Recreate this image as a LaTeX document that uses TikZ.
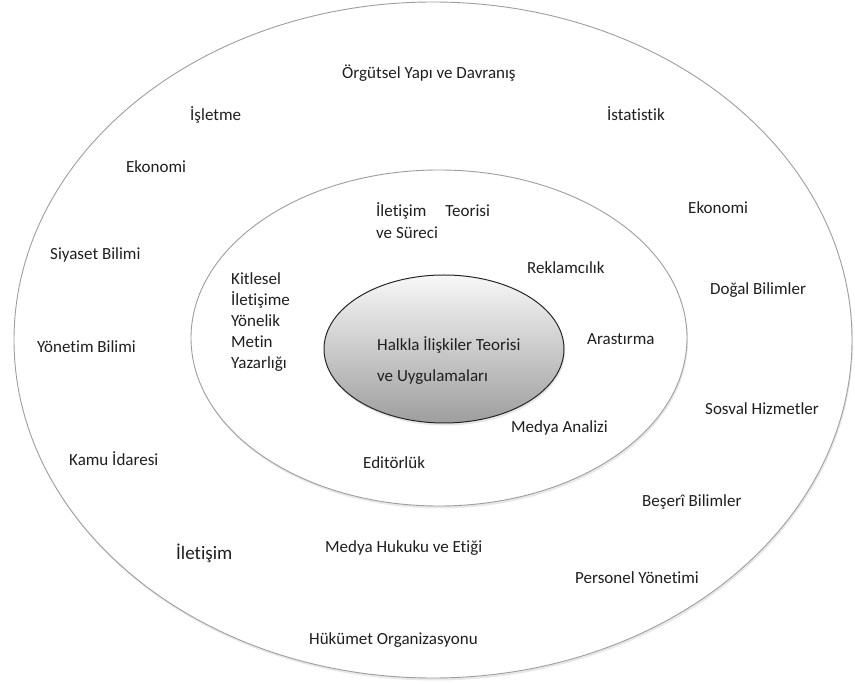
\documentclass[tikz,border=0pt]{standalone}
\usepackage{fontspec}
\setmainfont{Carlito}[Ligatures=NoCommon]
\usetikzlibrary{shapes.geometric}
\usetikzlibrary{shadows}
\usetikzlibrary{positioning}

\begin{document}
\begin{tikzpicture}[x=1pt,y=-1pt,
  every node/.style={font=\fontsize{17}{21}\selectfont, text=black!88},
  lbl/.style={anchor=west, inner sep=0pt, align=left},
  ring/.style={ellipse, draw=black!38, line width=0.9pt, fill=white, inner sep=0pt,
    drop shadow={shadow xshift=1pt, shadow yshift=-2.5pt, opacity=0.18}},
  kern/.style={ellipse, draw=black!85, line width=1pt, inner sep=0pt,
    top color=black!3, bottom color=black!38,
    drop shadow={shadow xshift=1pt, shadow yshift=-2.5pt, opacity=0.2}}]
\useasboundingbox (0,0) rectangle (855,684);
\coordinate (c1) at (433,340);
\coordinate (c2) at (439,338);
\coordinate (c3) at (444,349);

  \node (outer) at (c1) [ring, minimum width=838pt, minimum height=676pt] {};
  \node (middle) at (c2) [ring, minimum width=496pt, minimum height=336pt] {};
  \node (core) at (c3) [kern, minimum width=240pt, minimum height=148pt] {};

  %\node (halkla) at (c3) [align=left] {Halkla İlişkiler Teorisi\\ve Uygulamaları};
  \node (halkla) at (377,345) [lbl] {Halkla İlişkiler Teorisi};
  \node (uygulama) at (377,377) [lbl] {ve Uygulamaları};

  \node (teori) at (376,221) [lbl, font=\fontsize{17}{22}\selectfont] {İletişim\hspace{19pt}Teorisi\\ve Süreci};
  \node (reklam) at (527,268) [lbl] {Reklamcılık};
  \node (kitlesel) at (231,322) [lbl] {Kitlesel\\İletişime\\Yönelik\\Metin\\Yazarlığı};
  \node (arastirma) at (587,339) [lbl] {Arastırma};
  \node (analiz) at (511,428) [lbl] {Medya Analizi};
  \node (editor) at (363,463) [lbl] {Editörlük};

  \node (orgut) at (342,73) [lbl] {Örgütsel Yapı ve Davranış};
  \node (isletme) at (190,115) [lbl] {İşletme};
  \node (istat) at (607,114) [lbl] {İstatistik};
  \node (ekoL) at (126,167) [lbl] {Ekonomi};
  \node (ekoR) at (688,208) [lbl] {Ekonomi};
  \node (siyaset) at (50,255) [lbl] {Siyaset Bilimi};
  \node (dogal) at (710,290) [lbl] {Doğal Bilimler};
  \node (yonetim) at (37,347) [lbl] {Yönetim Bilimi};
  \node (sosyal) at (705,409) [lbl] {Sosval Hizmetler};
  \node (kamu) at (69,459) [lbl] {Kamu İdaresi};
  \node (beseri) at (642,502) [lbl] {Beşerî Bilimler};
  \node (iletisim) at (176,553) [lbl, font=\fontsize{19}{23}\selectfont] {İletişim};
  \node (hukuk) at (325,548) [lbl] {Medya Hukuku ve Etiği};
  \node (personel) at (575,578) [lbl] {Personel Yönetimi};
  \node (hukumet) at (309,640) [lbl] {Hükümet Organizasyonu};
\end{tikzpicture}
\end{document}
